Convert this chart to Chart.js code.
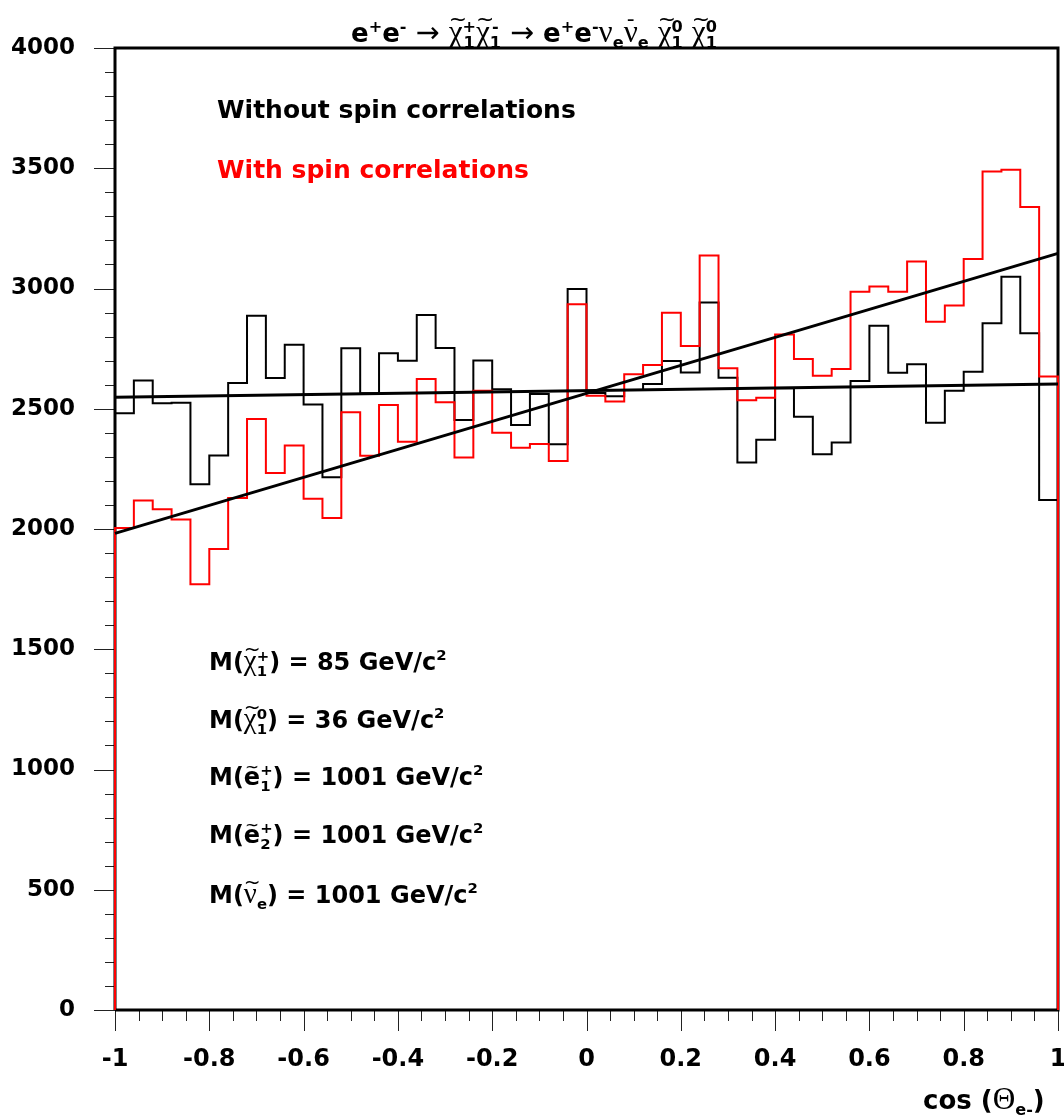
<!DOCTYPE html>
<html>
<head>
<meta charset="utf-8">
<script src="https://cdn.jsdelivr.net/npm/chart.js@4/dist/chart.umd.min.js"></script>
<style>
  html,body{margin:0;padding:0;background:#fff;}
  #wrap{position:relative;width:1064px;height:1118px;overflow:hidden;}
  canvas{position:absolute;left:0;top:0;}
  .lbl{position:absolute;font-family:'DejaVu Sans',sans-serif;font-weight:bold;white-space:nowrap;line-height:1;color:#000;}
  .gr{font-family:'Liberation Serif',serif;font-weight:normal;font-size:1.2em;}
  .ar{font-family:'DejaVu Sans',sans-serif;font-weight:normal;font-size:1.1em;}
  .sup{font-size:0.62em;vertical-align:0.65em;}
  .sub{font-size:0.62em;vertical-align:-0.4em;}
  .st{display:inline-flex;flex-direction:column;font-size:0.62em;line-height:1.02;vertical-align:0.62em;}
  .tc{position:relative;display:inline-block;}
  .td{position:absolute;left:0;right:0;text-align:center;top:-0.36em;font-size:0.7em;font-weight:normal;font-family:'DejaVu Sans',sans-serif;}
</style>
</head>
<body>
<div id="wrap">
<canvas id="c" width="1064" height="1118"></canvas>

<div class="lbl" id="title" style="left:0;width:1068px;text-align:center;top:16px;font-size:26px;">e<span class="sup">+</span>e<span class="sup">-</span> <span class="ar">→</span> <span class="tc gr">χ<span class="td">~</span></span><span class="st"><span>+</span><span>1</span></span><span class="tc gr">χ<span class="td">~</span></span><span class="st"><span>-</span><span>1</span></span> <span class="ar">→</span> e<span class="sup">+</span>e<span class="sup">-</span><span class="gr">ν</span><span class="sub">e</span><span class="tc gr">ν<span class="td">-</span></span><span class="sub">e</span> <span class="tc gr">χ<span class="td">~</span></span><span class="st"><span>0</span><span>1</span></span> <span class="tc gr">χ<span class="td">~</span></span><span class="st"><span>0</span><span>1</span></span></div>

<div class="lbl" style="left:217px;top:97px;font-size:25px;">Without spin correlations</div>
<div class="lbl" style="left:217px;top:157px;font-size:25px;color:#ff0000;">With spin correlations</div>

<div class="lbl" style="left:209px;top:646px;font-size:24px;">M(<span class="tc gr">χ<span class="td">~</span></span><span class="st"><span>+</span><span>1</span></span>) = 85 GeV/c<span class="sup">2</span></div>
<div class="lbl" style="left:209px;top:704px;font-size:24px;">M(<span class="tc gr">χ<span class="td">~</span></span><span class="st"><span>0</span><span>1</span></span>) = 36 GeV/c<span class="sup">2</span></div>
<div class="lbl" style="left:209px;top:763px;font-size:24px;">M(<span class="tc">e<span class="td">~</span></span><span class="st"><span>+</span><span>1</span></span>) = 1001 GeV/c<span class="sup">2</span></div>
<div class="lbl" style="left:209px;top:821px;font-size:24px;">M(<span class="tc">e<span class="td">~</span></span><span class="st"><span>+</span><span>2</span></span>) = 1001 GeV/c<span class="sup">2</span></div>
<div class="lbl" style="left:209px;top:879px;font-size:24px;">M(<span class="tc gr">ν<span class="td">~</span></span><span class="sub">e</span>) = 1001 GeV/c<span class="sup">2</span></div>

<div class="lbl" style="left:923px;top:1083px;font-size:26px;">cos (<span class="gr">Θ</span><span class="sub">e-</span>)</div>
</div>

<script>
// ---- data ----
const binLow = -1;
const binWidth = 0.04;
const noSpinCounts = [2481,2617,2523,2525,2186,2306,2607,2887,2628,2766,2518,2215,2752,
  2564,2731,2700,2890,2753,2453,2701,2581,2432,2561,2352,
  2998,2565,2552,2578,2603,2699,2651,2942,2629,2276,2371,2585,2467,2311,
  2360,2615,2845,2650,2685,2442,2575,2654,2855,3049,2814,2121];
const spinCounts = [2004,2118,2082,2039,1770,1917,2129,2457,2233,2347,2126,2046,2485,
  2305,2516,2363,2624,2527,2297,2575,2400,2338,2353,2283,
  2935,2554,2530,2643,2682,2899,2761,3137,2668,2535,2546,2809,2707,2637,
  2665,2987,3008,2987,3112,2862,2929,3123,3486,3494,3339,2634];
const fitX = [-1, 1];
const fitNoSpin = [2548, 2603];
const fitSpin = [1982, 3146];
const xTickStep = 0.2, xMinorStep = 0.05;
const yTickStep = 500, yMinorStep = 100;

function histPoints(vals){
  const pts = [{x: binLow, y: 0}];
  vals.forEach((v, i) => pts.push({x: binLow + i * binWidth, y: v}));
  const end = binLow + vals.length * binWidth;
  pts.push({x: end, y: vals[vals.length - 1]});
  pts.push({x: end, y: 0});
  return pts;
}
function linePoints(ys){ return fitX.map((x, i) => ({x, y: ys[i]})); }

const framePlugin = {
  id: 'frame',
  beforeDatasetsDraw(chart){
    const {ctx, chartArea: a, scales: {x, y}} = chart;
    ctx.save();
    ctx.strokeStyle = '#222';
    ctx.lineWidth = 1;
    ctx.beginPath();
    for (let v = 0; v <= 4000 + 1e-6; v += yMinorStep) {
      const py = Math.round(y.getPixelForValue(v)) + 0.5;
      const major = Math.abs(v / yTickStep - Math.round(v / yTickStep)) < 1e-6;
      ctx.moveTo(a.left - (major ? 21 : 10), py);
      ctx.lineTo(a.left, py);
    }
    for (let k = 0; k <= 40; k++) {
      const v = -1 + k * xMinorStep;
      const px = Math.round(x.getPixelForValue(v)) + 0.5;
      const major = k % 4 === 0;
      ctx.moveTo(px, a.bottom);
      ctx.lineTo(px, a.bottom + (major ? 21 : 11));
    }
    ctx.stroke();
    ctx.strokeStyle = '#000';
    ctx.lineWidth = 3;
    ctx.beginPath();
    ctx.moveTo(a.left, a.bottom);
    ctx.lineTo(a.left, a.top);
    ctx.lineTo(a.right, a.top);
    ctx.lineTo(a.right, a.bottom);
    ctx.lineTo(a.left, a.bottom);
    ctx.stroke();
    ctx.restore();
  }
};

const tickFont = (s) => ({family: 'DejaVu Sans', weight: 'bold', size: s});
const hidden = {display: true, drawOnChartArea: false, drawTicks: true, tickLength: 20, color: 'rgba(0,0,0,0)'};

new Chart(document.getElementById('c'), {
  type: 'line',
  data: {
    datasets: [
      {data: linePoints(fitSpin), borderColor: '#000', borderWidth: 3, pointRadius: 0, order: 0, clip: false},
      {data: linePoints(fitNoSpin), borderColor: '#000', borderWidth: 3, pointRadius: 0, order: 0, clip: false},
      {data: histPoints(spinCounts), borderColor: '#ff0000', borderWidth: 2, pointRadius: 0, stepped: true, order: 1, clip: false},
      {data: histPoints(noSpinCounts), borderColor: '#000', borderWidth: 2, pointRadius: 0, stepped: true, order: 2, clip: false}
    ]
  },
  options: {
    responsive: false,
    animation: false,
    events: [],
    layout: {padding: {top: 48, right: 6, left: 0, bottom: 0}},
    plugins: {legend: {display: false}, tooltip: {enabled: false}, title: {display: false}},
    scales: {
      x: {
        type: 'linear', min: -1, max: 1,
        grid: hidden, border: {display: false},
        afterFit(s){ s.height = 108; s.paddingLeft = 0; s.paddingRight = 0; },
        ticks: {
          stepSize: xTickStep, padding: 15, color: '#000', font: tickFont(24),
          maxRotation: 0, autoSkip: false,
          callback: (v) => String(+Number(v).toFixed(1))
        }
      },
      y: {
        type: 'linear', min: 0, max: 4000,
        grid: hidden, border: {display: false},
        afterFit(s){ s.width = 115; s.paddingTop = 0; s.paddingBottom = 0; },
        ticks: {stepSize: yTickStep, padding: 20, color: '#000', font: tickFont(23),
          callback: (v) => String(Math.round(v))}
      }
    }
  },
  plugins: [framePlugin]
});
</script>
</body>
</html>
